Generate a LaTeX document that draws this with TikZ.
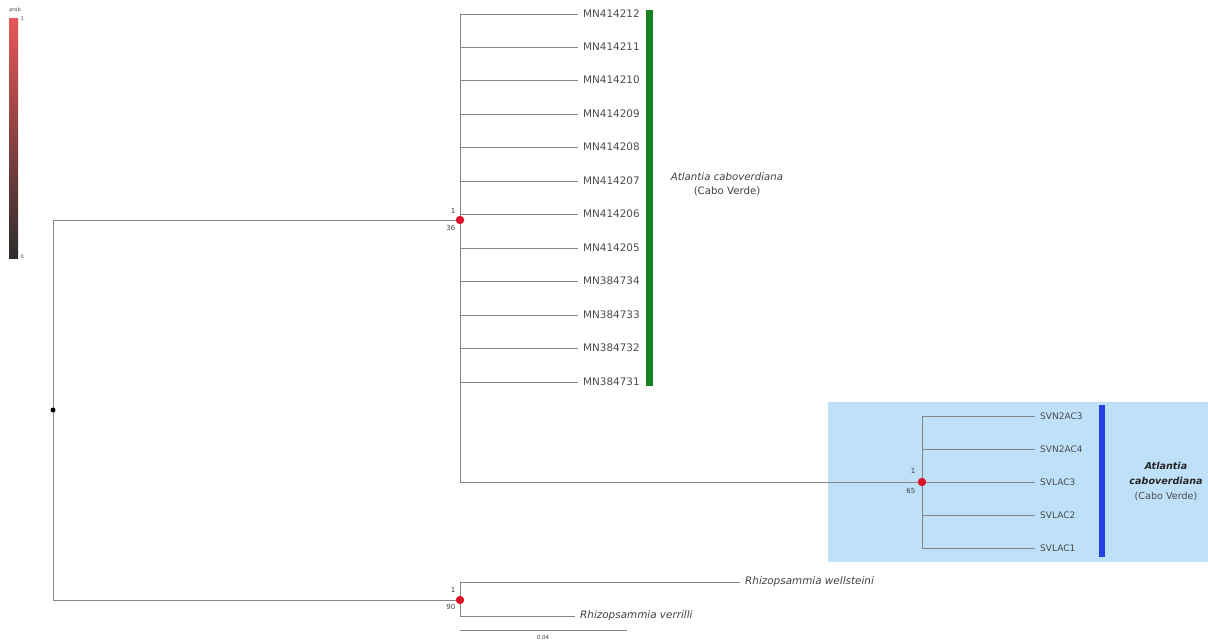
\documentclass[tikz,border=0pt]{standalone}
\usepackage{fontspec}
\setmainfont{DejaVu Sans}
\definecolor{hlblue}{RGB}{190,224,248}
\definecolor{barred}{RGB}{232,86,86}
\definecolor{bardark}{RGB}{45,45,45}
\definecolor{cladegreen}{RGB}{20,130,30}
\definecolor{cladeblue}{RGB}{35,65,225}
\definecolor{dotred}{RGB}{220,20,40}
\begin{document}
\begin{tikzpicture}[x=1pt,y=-1pt,
  br/.style={draw=black!48, line width=1pt},
  leaf/.style={anchor=west, inner xsep=5pt, inner ysep=1pt, font=\fontsize{10.4}{11}\selectfont, text=black!70},
  svleaf/.style={leaf, font=\fontsize{9}{10}\selectfont},
  sp/.style={anchor=west, inner xsep=5pt, inner ysep=1pt, font=\fontsize{10.4}{11}\selectfont\itshape, text=black!75},
  supp/.style={font=\fontsize{7}{8}\selectfont, inner sep=0.5pt, text=black!75},
  rdot/.style={circle, fill=dotred, inner sep=0pt, minimum size=8.5pt},
  bdot/.style={circle, fill=black, inner sep=0pt, minimum size=5pt}]
\useasboundingbox (0,0) rectangle (1208,640);
% highlight box
\fill[hlblue] (828,402) rectangle (1208,562);
% colour legend
\shade[top color=barred, bottom color=bardark] (9,18) rectangle (18,258);
\node[supp, font=\fontsize{5}{6}\selectfont] (lgt) at (15,10) {prob};
\node[supp, font=\fontsize{5}{6}\selectfont, anchor=west] (lg1) at (20,19) {1};
\node[supp, font=\fontsize{5}{6}\selectfont, anchor=west] (lg0) at (20,257) {0};
% clade bars
\fill[cladegreen] (646,10) rectangle (653,386);
\fill[cladeblue] (1099,405) rectangle (1105,557);
% internal nodes
\coordinate (root) at (53,410);
\coordinate (n1) at (460,220);
\coordinate (n2) at (922,482);
\coordinate (n3) at (460,600);
% leaves upper clade
\foreach \i/\lab/\y in {1/MN414212/14, 2/MN414211/47, 3/MN414210/80, 4/MN414209/114, 5/MN414208/147, 6/MN414207/181, 7/MN414206/214, 8/MN414205/248, 9/MN384734/281, 10/MN384733/315, 11/MN384732/348, 12/MN384731/382}{
  \node[leaf] (A\i) at (578,\y) {\lab};
  \draw[br] (n1) |- (A\i.west);
}
% SV clade
\draw[br] (n1) |- (n2);
\foreach \i/\lab/\y in {1/SVN2AC3/416, 2/SVN2AC4/449, 3/SVLAC3/482, 4/SVLAC2/515, 5/SVLAC1/548}{
  \node[svleaf] (B\i) at (1035,\y) {\lab};
  \draw[br] (n2) |- (B\i.west);
}
% outgroup
\draw[br] (root) |- (n1);
\draw[br] (root) |- (n3);
\node[sp] (R1) at (740,582) {Rhizopsammia wellsteini};
\node[sp] (R2) at (575,616) {Rhizopsammia verrilli};
\draw[br] (n3) |- (R1.west);
\draw[br] (n3) |- (R2.west);
% node markers and supports
\node[bdot] (rootdot) at (root) {};
\node[rdot] (d1) at (n1) {};
\node[rdot] (d2) at (n2) {};
\node[rdot] (d3) at (n3) {};
\node[supp, anchor=east] (s1a) at (456,211) {1};
\node[supp, anchor=east] (s1b) at (456,228) {36};
\node[supp, anchor=east] (s2a) at (916,471) {1};
\node[supp, anchor=east] (s2b) at (916,491) {65};
\node[supp, anchor=east] (s3a) at (456,590) {1};
\node[supp, anchor=east] (s3b) at (456,607) {90};
% clade labels
\node[align=center, font=\fontsize{10.2}{14}\selectfont, text=black!75] (C1) at (727,184) {\itshape Atlantia caboverdiana\\(Cabo Verde)};
\node[align=center, font=\fontsize{9.6}{15}\selectfont, text=black!85] (C2) at (1166,481) {\bfseries\itshape Atlantia\\\bfseries\itshape caboverdiana\\{\normalfont\color{black!70}(Cabo Verde)}};
% scale bar
\coordinate (sb1) at (460,630);
\coordinate (sb2) at (627,630);
\draw[br] (sb1) -- (sb2);
\node[supp, font=\fontsize{5.5}{6}\selectfont] (sbl) at (543,637) {0.04};
\end{tikzpicture}
\end{document}
